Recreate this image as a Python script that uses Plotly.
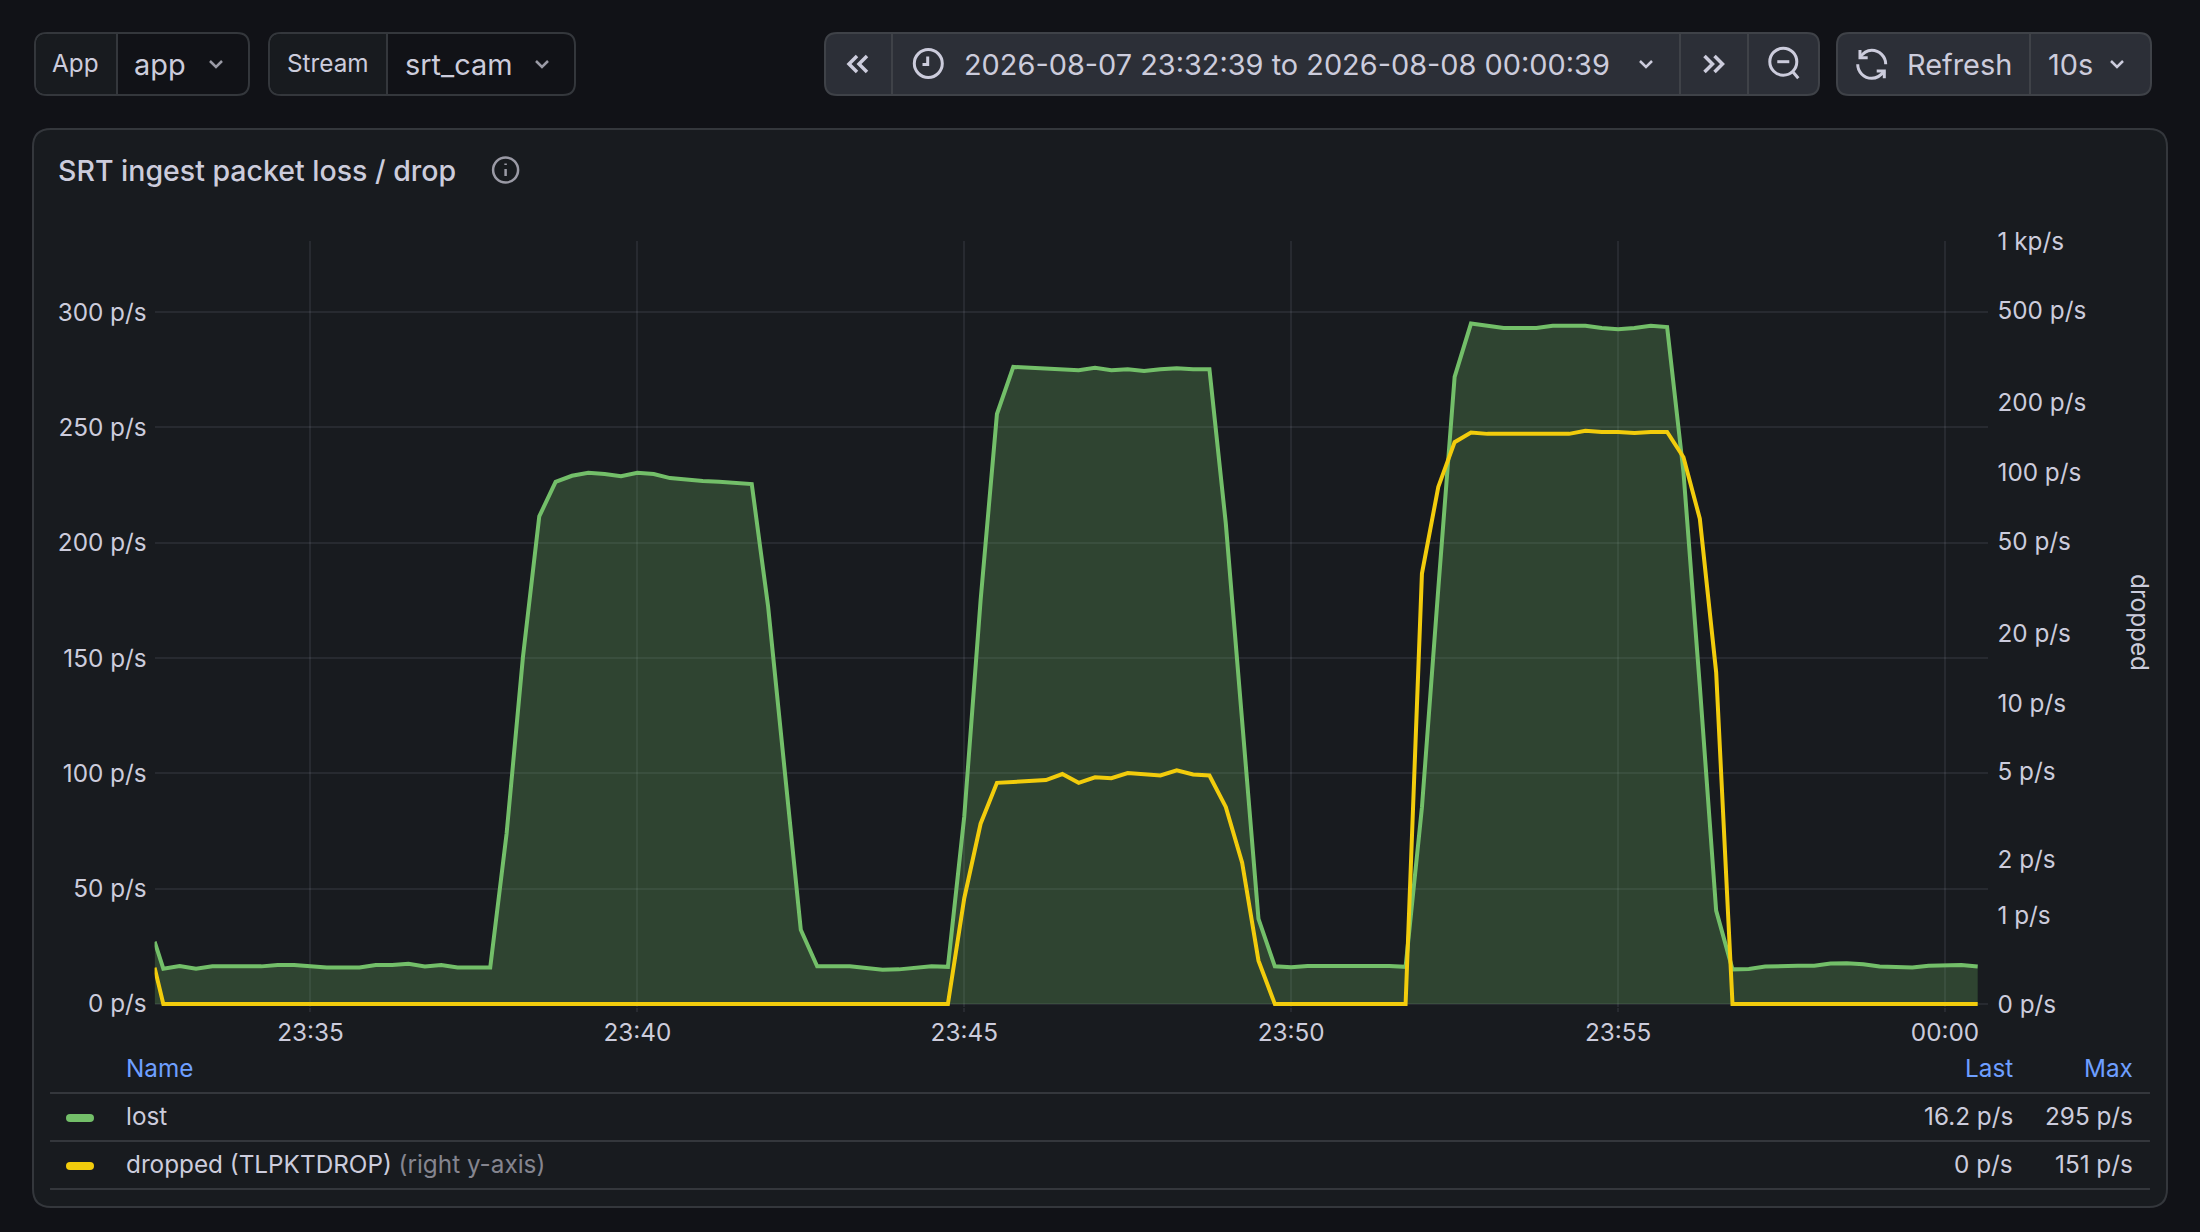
import numpy as np
import pandas as pd
import plotly.graph_objects as go

WIDTH, HEIGHT = 2200, 1232

# samples every 15s, plus one clipped sample at the left edge of the plot
first_time = ["2026-08-07 23:32:37"]
sample_times = pd.date_range("2026-08-07 23:32:45", periods=112, freq="15s")
times = pd.to_datetime(first_time).append(sample_times)

lost = [
    27.0, 15.3, 16.4, 15.3, 16.3, 16.3, 16.3, 16.3, 16.9, 16.9, 16.4, 15.8, 15.8, 15.8, 16.9, 16.9, 17.4,
    16.3, 16.9, 15.8, 15.8, 15.8, 73.8, 150.3, 211.4, 226.4, 229.0, 230.3, 229.8, 228.8, 230.3, 229.8,
    228.0, 227.2, 226.7, 226.4, 225.9, 225.4, 172.3, 101.5, 32.2, 16.3, 16.3, 16.3, 15.6, 14.8, 15.0,
    15.8, 16.4, 16.1, 81.3, 175.0, 255.8, 276.2, 275.8, 275.6, 275.2, 274.8, 275.8, 274.8, 275.2, 274.4,
    275.2, 275.6, 275.2, 275.2, 208.4, 122.7, 36.9, 16.3, 15.9, 16.5, 16.5, 16.5, 16.6, 16.3, 16.5, 16.1,
    85.3, 180.0, 271.9, 295.0, 294.1, 293.1, 293.1, 293.1, 294.1, 294.1, 294.1, 293.1, 292.5, 293.1,
    294.1, 293.5, 230.6, 137.8, 40.5, 15.0, 15.2, 16.2, 16.6, 16.6, 16.6, 17.5, 17.6, 17.2, 16.2, 15.8,
    15.8, 16.6, 16.9, 16.9, 16.2,
]
dropped = [
    0.37, 0, 0, 0, 0, 0, 0, 0, 0, 0, 0, 0, 0, 0, 0, 0, 0, 0, 0, 0, 0, 0, 0, 0, 0, 0, 0, 0, 0, 0, 0, 0, 0,
    0, 0, 0, 0, 0, 0, 0, 0, 0, 0, 0, 0, 0, 0, 0, 0, 0, 1.26, 2.93, 4.47, 4.51, 4.57, 4.60, 4.89, 4.47,
    4.73, 4.69, 4.94, 4.89, 4.82, 5.08, 4.87, 4.82, 3.49, 1.92, 0.445, 0, 0, 0, 0, 0, 0, 0, 0, 0, 36.4,
    86.3, 134.8, 148.5, 146.4, 146.4, 146.4, 146.4, 145.0, 146.4, 151.0, 149.3, 149.3, 147.8, 149.3,
    149.3, 116.0, 62.9, 13.6, 0, 0, 0, 0, 0, 0, 0, 0, 0, 0, 0, 0, 0, 0, 0, 0,
]

left_ticks = [0, 50, 100, 150, 200, 250, 300]
left_labels = ["0 p/s", "50 p/s", "100 p/s", "150 p/s", "200 p/s", "250 p/s", "300 p/s"]
right_ticks = [0, 1, 2, 5, 10, 20, 50, 100, 200, 500, 1000]
right_labels = ["0 p/s", "1 p/s", "2 p/s", "5 p/s", "10 p/s", "20 p/s", "50 p/s", "100 p/s", "200 p/s", "500 p/s", "1 kp/s"]

TEXT = "#ccccdc"
MUTED = "#85858f"
BLUE = "#6e9fff"
GREEN = "#73bf69"
YELLOW = "#f2cc0c"
PAGE = "#111217"
PANEL = "#181b1f"
BORDER = "#34373c"
BUTTON = "#2c2f37"
DIVIDER = "#3f4248"
GRID = "rgba(204,204,220,0.09)"
FONT = "Inter"
SMALL = 24.3
BIG = 28.9

# plot area in page pixels; the bottom runs 3px under zero so the baseline stroke is not cut
PLOT_L, PLOT_R, PLOT_T, PLOT_B = 154.6, 1987.5, 241, 1006.5
LEFT_MIN, LEFT_MAX = -1.1, 330.8
RIGHT_MIN, RIGHT_MAX = -0.025, float(np.arcsinh(1000))


def px(x):
    return x / WIDTH


def py(y):
    return 1 - y / HEIGHT


def P(x, y):
    return f"{px(x):.5f},{py(y):.5f}"


def rounded(x0, y0, x1, y1, r=(12, 12, 12, 12)):
    tl, tr, br, bl = r
    return (
        f"M{P(x0 + tl, y0)} L{P(x1 - tr, y0)} Q{P(x1, y0)} {P(x1, y0 + tr)} "
        f"L{P(x1, y1 - br)} Q{P(x1, y1)} {P(x1 - br, y1)} "
        f"L{P(x0 + bl, y1)} Q{P(x0, y1)} {P(x0, y1 - bl)} "
        f"L{P(x0, y0 + tl)} Q{P(x0, y0)} {P(x0 + tl, y0)} Z"
    )


def box(x0, y0, x1, y1, fill, line=None, r=(12, 12, 12, 12), lw=2):
    return dict(type="path", xref="paper", yref="paper", layer="below", path=rounded(x0, y0, x1, y1, r),
                fillcolor=fill, line=dict(color=line or fill, width=lw if line else 0))


def stroke(points, color=TEXT, lw=3):
    path = "M" + " L".join(P(x, y) for x, y in points)
    return dict(type="path", xref="paper", yref="paper", path=path,
                line=dict(color=color, width=lw), fillcolor="rgba(0,0,0,0)")


def curve(path, color=TEXT, lw=3):
    return dict(type="path", xref="paper", yref="paper", path=path,
                line=dict(color=color, width=lw), fillcolor="rgba(0,0,0,0)")


def ring(cx, cy, rad, color=TEXT, lw=3):
    return dict(type="circle", xref="paper", yref="paper", x0=px(cx - rad), x1=px(cx + rad),
                y0=py(cy + rad), y1=py(cy - rad), line=dict(color=color, width=lw), fillcolor="rgba(0,0,0,0)")


def chevron(cx, cy, color=TEXT, lw=2.5):
    return stroke([(cx - 6, cy - 3), (cx, cy + 3), (cx + 6, cy - 3)], color, lw)


def double(cx, cy, sign):
    return [
        stroke([(cx - sign * 1, cy - 8), (cx - sign * 9, cy), (cx - sign * 1, cy + 8)], TEXT, 3.5),
        stroke([(cx + sign * 9, cy - 8), (cx + sign * 1, cy), (cx + sign * 9, cy + 8)], TEXT, 3.5),
    ]


def label(x, y, text, size=BIG, color=TEXT, anchor="left", angle=0, weight=None):
    return dict(xref="paper", yref="paper", x=px(x), y=py(y), text=text, showarrow=False, xanchor=anchor,
                yanchor="middle", textangle=angle, borderpad=0,
                font=dict(family=FONT, size=size, color=color, weight=weight))


# refresh icon: two arcs round one centre
RX, RY, RR = 1871.7, 64.3, 14
RK = 0.552 * RR

shapes = [
    # variable pickers
    box(35, 33, 249, 95, PAGE, BORDER),
    box(36, 34, 117, 94, PANEL, None, (11, 0, 0, 11)),
    stroke([(117, 33), (117, 95)], BORDER, 2),
    box(269, 33, 575, 95, PAGE, BORDER),
    box(270, 34, 387, 94, PANEL, None, (11, 0, 0, 11)),
    stroke([(387, 33), (387, 95)], BORDER, 2),
    chevron(216, 64, "#9a9aa5"),
    chevron(542, 64, "#9a9aa5"),
    # time picker and refresh
    box(825, 33, 1819, 95, BUTTON, DIVIDER),
    stroke([(892, 33), (892, 95)], DIVIDER, 2),
    stroke([(1680, 33), (1680, 95)], DIVIDER, 2),
    stroke([(1748, 33), (1748, 95)], DIVIDER, 2),
    box(1837, 33, 2151, 95, BUTTON, DIVIDER),
    stroke([(2030, 33), (2030, 95)], DIVIDER, 2),
    ring(928.3, 63.5, 14),
    stroke([(927.7, 56.5), (927.7, 64.5), (922.5, 64.5)], TEXT, 3),
    chevron(1646, 64),
    ring(1783.3, 61.7, 13.5),
    stroke([(1777.3, 61.7), (1789.3, 61.7)], TEXT, 3),
    stroke([(1793, 72), (1798.3, 78.3)], TEXT, 3),
    curve(
        f"M{P(1860, 57.7)} C{P(1863, 53)} {P(1867, RY - RR)} {P(RX, RY - RR)} "
        f"C{P(RX + RK, RY - RR)} {P(RX + RR, RY - RK)} {P(RX + RR, RY)}"
    ),
    curve(
        f"M{P(1884.3, 71)} C{P(1881, 75.5)} {P(1877, RY + RR)} {P(RX, RY + RR)} "
        f"C{P(RX - RK, RY + RR)} {P(RX - RR, RY + RK)} {P(RX - RR, RY)}"
    ),
    stroke([(1860, 50), (1860, 57.7), (1867.7, 57.7)], TEXT, 3),
    stroke([(1876.7, 71), (1884.3, 71), (1884.3, 78.3)], TEXT, 3),
    chevron(2117, 64),
    # panel
    box(33, 129, 2167, 1207, PANEL, BORDER, (18, 18, 18, 18)),
    ring(505.6, 170, 12.5, "#9a9aa5", 2.5),
    stroke([(505.6, 169), (505.6, 176)], "#9a9aa5", 2.5),
    stroke([(505.6, 163.5), (505.6, 165)], "#9a9aa5", 2.5),
    # legend table
    stroke([(50, 1093), (2150, 1093)], BORDER, 2),
    stroke([(50, 1141), (2150, 1141)], BORDER, 2),
    stroke([(50, 1189), (2150, 1189)], BORDER, 2),
    box(66, 1114, 94, 1122, GREEN, None, (4, 4, 4, 4)),
    box(66, 1162, 94, 1170, YELLOW, None, (4, 4, 4, 4)),
]
shapes += double(858, 64, 1)
shapes += double(1713.5, 64, -1)

annotations = [
    label(75.5, 63, "App", SMALL, anchor="center"),
    label(132.5, 64, "app"),
    label(327.5, 63, "Stream", SMALL, anchor="center"),
    label(403.5, 64, "srt_cam"),
    label(962.5, 64, "2026-08-07 23:32:39 to 2026-08-08 00:00:39"),
    label(1905.5, 64, "Refresh"),
    label(2046.5, 64, "10s"),
    label(57, 170, "SRT ingest packet loss / drop", 28.5, weight=500),
    label(2140, 622, "dropped", SMALL, angle=90, anchor="center"),
    label(125, 1068, "Name", SMALL, BLUE),
    label(2013.5, 1068, "Last", SMALL, BLUE, "right"),
    label(2134, 1068, "Max", SMALL, BLUE, "right"),
    label(125, 1116, "lost", SMALL),
    label(2013.5, 1116, "16.2 p/s", SMALL, anchor="right"),
    label(2134, 1116, "295 p/s", SMALL, anchor="right"),
    label(125, 1164, f'dropped (TLPKTDROP) <span style="color:{MUTED}">(right y-axis)</span>', SMALL),
    label(2013.5, 1164, "0 p/s", SMALL, anchor="right"),
    label(2134, 1164, "151 p/s", SMALL, anchor="right"),
]

fig = go.Figure()
fig.add_trace(go.Scatter(x=times, y=lost, mode="lines", name="lost", line=dict(color=GREEN, width=4),
                         fill="tozeroy", fillcolor="rgba(115,191,105,0.25)"))
# right axis is Grafana's symlog scale, so it is plotted in asinh space
fig.add_trace(go.Scatter(x=times, y=np.arcsinh(dropped), mode="lines", name="dropped (TLPKTDROP)",
                         line=dict(color=YELLOW, width=4), yaxis="y2"))

axis_font = dict(family=FONT, size=SMALL, color=TEXT)
fig.update_layout(
    width=WIDTH,
    height=HEIGHT,
    margin=dict(l=0, r=0, t=0, b=0, autoexpand=False),
    autosize=False,
    paper_bgcolor=PAGE,
    plot_bgcolor="rgba(0,0,0,0)",
    showlegend=False,
    hovermode=False,
    shapes=shapes,
    annotations=annotations,
    xaxis=dict(
        domain=[px(PLOT_L), px(PLOT_R)],
        anchor="y",
        type="date",
        range=["2026-08-07 23:32:37", "2026-08-08 00:00:39"],
        tick0="2026-08-07 23:35:00",
        dtick=300000,
        tickformat="%H:%M",
        showgrid=True,
        gridcolor=GRID,
        gridwidth=1.5,
        ticks="outside",
        ticklen=4,
        tickwidth=1.5,
        tickcolor=GRID,
        tickfont=axis_font,
        zeroline=False,
        showline=False,
        automargin=False,
    ),
    yaxis=dict(
        domain=[py(PLOT_B), py(PLOT_T)],
        anchor="x",
        range=[LEFT_MIN, LEFT_MAX],
        tickvals=left_ticks,
        ticktext=left_labels,
        showgrid=True,
        gridcolor=GRID,
        gridwidth=1.5,
        ticks="",
        tickfont=axis_font,
        ticklabelstandoff=7,
        zeroline=False,
        showline=False,
        automargin=False,
    ),
    yaxis2=dict(
        domain=[py(PLOT_B), py(PLOT_T)],
        anchor="x",
        overlaying="y",
        side="right",
        range=[RIGHT_MIN, RIGHT_MAX],
        tickvals=np.arcsinh(right_ticks),
        ticktext=right_labels,
        showgrid=False,
        ticks="",
        tickfont=axis_font,
        ticklabelstandoff=9,
        zeroline=False,
        showline=False,
        automargin=False,
    ),
)

# no default body margin, so the figure fills the window
fig.write_html(
    "out.html",
    config={"displayModeBar": False},
    post_script="document.body.style.margin='0';document.body.style.overflow='hidden';",
)
